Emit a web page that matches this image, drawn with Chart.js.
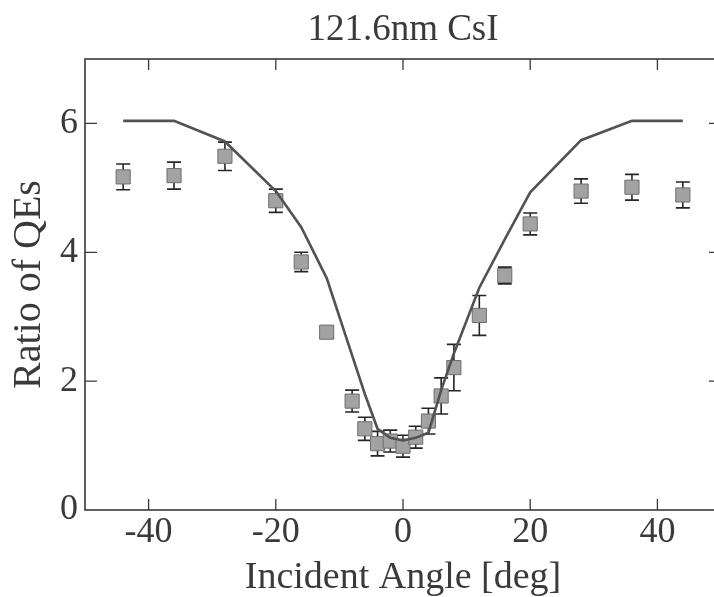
<!DOCTYPE html>
<html>
<head>
<meta charset="utf-8">
<script src="https://cdn.jsdelivr.net/npm/chart.js@4/dist/chart.umd.min.js"></script>
<style>
  html, body { margin: 0; padding: 0; background: #fff; overflow: hidden; }
  #wrap { position: relative; width: 790px; height: 597px; }
</style>
</head>
<body>
<div id="wrap"><canvas id="c"></canvas></div>
<script>
// ---- data ----
const angles = [-44, -36, -28, -20, -16, -12, -8, -6, -4, -2, 0, 2, 4, 6, 8, 12, 16, 20, 28, 36, 44];
const measuredRatio = [5.17, 5.19, 5.49, 4.80, 3.85, 2.76, 1.69, 1.26, 1.03, 1.07, 0.99, 1.13, 1.38, 1.77, 2.21, 3.02, 3.64, 4.44, 4.95, 5.01, 4.89];
const measuredError = [0.20, 0.21, 0.22, 0.18, 0.15, 0.08, 0.17, 0.18, 0.19, 0.17, 0.17, 0.17, 0.20, 0.28, 0.36, 0.31, 0.13, 0.17, 0.19, 0.20, 0.20];
const theoryRatio = [6.04, 6.04, 5.72, 4.95, 4.39, 3.60, 2.40, 1.80, 1.26, 1.12, 1.08, 1.12, 1.20, 1.86, 2.43, 3.45, 4.20, 4.93, 5.74, 6.04, 6.04];

const titleText = '121.6nm CsI';
const xTitle = 'Incident Angle [deg]';
const yTitle = 'Ratio of QEs';
const xLabelEvery = 20;
const yLabelEvery = 2;

const serif = '"Liberation Serif", "Times New Roman", serif';
const textColor = '#3a3a3a';

const scatterPoints = angles.map((a, i) => ({ x: a, y: measuredRatio[i], err: measuredError[i] }));
const theoryPoints = angles.map((a, i) => ({ x: a, y: theoryRatio[i] }));

const errorBars = {
  id: 'errorBars',
  beforeDatasetsDraw(chart) {
    const ctx = chart.ctx;
    const xs = chart.scales.x, ys = chart.scales.y;
    ctx.save();
    ctx.strokeStyle = '#262626';
    ctx.lineWidth = 1.6;
    scatterPoints.forEach(p => {
      const px = xs.getPixelForValue(p.x);
      const yt = ys.getPixelForValue(p.y + p.err);
      const yb = ys.getPixelForValue(p.y - p.err);
      ctx.beginPath();
      ctx.moveTo(px, yt); ctx.lineTo(px, yb);
      ctx.moveTo(px - 7, yt); ctx.lineTo(px + 7, yt);
      ctx.moveTo(px - 7, yb); ctx.lineTo(px + 7, yb);
      ctx.stroke();
    });
    ctx.restore();
  }
};

const frameTicks = {
  id: 'frameTicks',
  afterDraw(chart) {
    const ctx = chart.ctx;
    const { left, right, top, bottom } = chart.chartArea;
    const xs = chart.scales.x, ys = chart.scales.y;
    ctx.save();
    ctx.strokeStyle = '#3a3a3a';
    ctx.lineWidth = 1.6;
    ctx.strokeRect(left, top, right - left, bottom - top);
    ctx.lineWidth = 1.3;
    ctx.beginPath();
    xs.ticks.forEach(t => {
      const v = t.value;
      if (v <= xs.min || v >= xs.max) return;
      const px = xs.getPixelForValue(v);
      const len = (v % xLabelEvery === 0) ? 11 : 6;
      ctx.moveTo(px, bottom); ctx.lineTo(px, bottom - len);
      ctx.moveTo(px, top); ctx.lineTo(px, top + len);
    });
    ys.ticks.forEach(t => {
      const v = t.value;
      if (v <= ys.min || v >= ys.max) return;
      const py = ys.getPixelForValue(v);
      const len = (v % yLabelEvery === 0) ? 12 : 5;
      ctx.moveTo(left, py); ctx.lineTo(left + len, py);
      ctx.moveTo(right, py); ctx.lineTo(right - len, py);
    });
    ctx.stroke();
    ctx.restore();
  }
};

new Chart(document.getElementById('c'), {
  type: 'scatter',
  data: {
    datasets: [
      {
        type: 'line',
        label: 'theory',
        data: theoryPoints,
        showLine: true,
        borderColor: '#525252',
        borderWidth: 2.6,
        pointRadius: 0,
        tension: 0,
        fill: false,
        order: 0
      },
      {
        label: 'measured',
        data: scatterPoints,
        pointStyle: 'rect',
        pointRadius: 10,
        pointHoverRadius: 10,
        backgroundColor: '#a2a2a2',
        borderColor: '#6e6e6e',
        borderWidth: 1,
        order: 1
      }
    ]
  },
  options: {
    responsive: true,
    maintainAspectRatio: false,
    devicePixelRatio: 1,
    animation: false,
    layout: { padding: { left: 0, right: 69, top: 0, bottom: 0 } },
    plugins: {
      legend: { display: false },
      tooltip: { enabled: false },
      title: {
        display: true,
        text: titleText,
        fullSize: false,
        color: textColor,
        font: { family: serif, size: 37, weight: 'normal', lineHeight: 1.2 },
        padding: { top: 8, bottom: 6.6 }
      }
    },
    scales: {
      x: {
        type: 'linear',
        min: -50,
        max: 50,
        afterFit(scale) { scale.height = 87; },
        grid: { display: false, drawTicks: false },
        border: { display: false },
        ticks: {
          stepSize: 10,
          padding: 5,
          color: textColor,
          font: { family: serif, size: 36, lineHeight: 1 },
          maxRotation: 0,
          autoSkip: false,
          callback: v => (v % xLabelEvery === 0 && v > -50 && v < 50) ? String(v) : null
        },
        title: {
          display: true,
          text: xTitle,
          color: textColor,
          font: { family: serif, size: 38, lineHeight: 1 },
          padding: { top: 0, bottom: 0 }
        }
      },
      y: {
        type: 'linear',
        min: 0,
        max: 7,
        afterFit(scale) { scale.width = 85; },
        grid: { display: false, drawTicks: false },
        border: { display: false },
        ticks: {
          stepSize: 1,
          padding: 7,
          color: textColor,
          font: { family: serif, size: 36, lineHeight: 1 },
          autoSkip: false,
          callback: v => (v % yLabelEvery === 0 && v < 7) ? String(v) : null
        },
        title: {
          display: true,
          text: yTitle,
          color: textColor,
          font: { family: serif, size: 40, lineHeight: 1 },
          padding: { top: 9, bottom: 0 }
        }
      }
    }
  },
  plugins: [errorBars, frameTicks]
});
</script>
</body>
</html>
